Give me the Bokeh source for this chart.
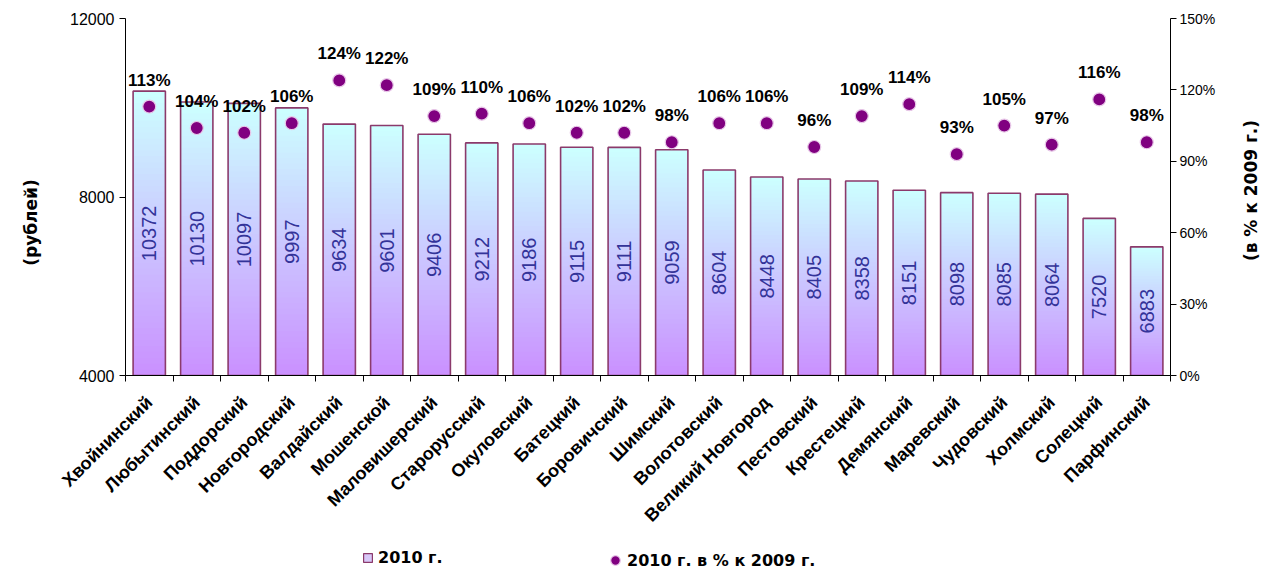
import math
from bokeh.plotting import figure
from bokeh.layouts import column, row
from bokeh.models import (Range1d, LinearAxis, FixedTicker, NumeralTickFormatter,
                          Legend, LegendItem)
from bokeh.core.properties import value
from bokeh.embed import file_html
from bokeh.resources import INLINE

districts = ["Хвойнинский", "Любытинский", "Поддорский", "Новгородский", "Валдайский",
             "Мошенской", "Маловишерский", "Старорусский", "Окуловский", "Батецкий",
             "Боровичский", "Шимский", "Волотовский", "Великий Новгород", "Пестовский",
             "Крестецкий", "Демянский", "Маревский", "Чудовский", "Холмский",
             "Солецкий", "Парфинский"]
wages_2010 = [10372, 10130, 10097, 9997, 9634, 9601, 9406, 9212, 9186, 9115, 9111,
              9059, 8604, 8448, 8405, 8358, 8151, 8098, 8085, 8064, 7520, 6883]
pct_of_2009 = [113, 104, 102, 106, 124, 122, 109, 110, 106, 102, 102,
               98, 106, 106, 96, 109, 114, 93, 105, 97, 116, 98]
left_ticks = [4000, 8000, 12000]
right_ticks = [0, 30, 60, 90, 120, 150]
left_title = "(рублей)"
right_title = "(в % к 2009 г.)"
legend_labels = ["2010 г.", "2010 г. в % к 2009 г."]

FONT = "Liberation Sans"
TFONT = "DejaVu Sans"
Y0, Y1 = 4000, 12000
n = len(districts)
xs = list(range(n))

H, LH = 548, 24
LW, PW, RW = 46, 1180, 36        # left title strip, chart, right title strip
FRAME_L, FRAME_R, FRAME_T, FRAME_B = 125, 1170, 18, 375

p = figure(width=PW, height=H, output_backend="svg", toolbar_location=None,
           x_range=Range1d(-0.5, n - 0.5), y_range=Range1d(Y0, Y1),
           min_border_left=FRAME_L - LW, min_border_right=LW + PW - FRAME_R,
           min_border_top=FRAME_T, min_border_bottom=H - FRAME_B, frame_align=False)
p.outline_line_color = None
p.xgrid.visible = False
p.ygrid.visible = False
p.background_fill_color = "white"
p.border_fill_color = "white"

# gradient bars (stacked thin overlapping slices per bar, cyan at top -> violet at bottom)
top_c = (204, 255, 255)
bot_c = (202, 145, 255)
N = 48
sx, sb, st, sc = [], [], [], []
for i, v in enumerate(wages_2010):
    for k in range(N):
        f = k / (N - 1)
        c = tuple(int(round(bot_c[j] + (top_c[j] - bot_c[j]) * f)) for j in range(3))
        sx.append(i)
        sb.append(Y0 + (v - Y0) * k / N)
        st.append(min(v, Y0 + (v - Y0) * (k + 1.6) / N))
        sc.append("#%02x%02x%02x" % c)
p.vbar(x=sx, bottom=sb, top=st, width=0.68, fill_color=sc, line_color=None)
p.vbar(x=xs, bottom=Y0, top=wages_2010, width=0.68, fill_color=None,
       line_color="#8B3A6B", line_width=1.6)

# value labels inside bars
mids = [(Y0 + v) / 2 for v in wages_2010]
p.text(x=xs, y=mids, text=[str(v) for v in wages_2010], angle=math.pi / 2,
       text_align="center", text_baseline="middle", text_color="#333399",
       text_font=value(FONT), text_font_size="20px")

# percent series on right axis
p.extra_y_ranges = {"pct": Range1d(0, 1.5)}
pv = [v / 100 for v in pct_of_2009]
p.scatter(x=xs, y=pv, y_range_name="pct", size=13, fill_color="#800080",
          line_color="#E8C8E8", line_width=1.2)
p.text(x=xs, y=pv, y_range_name="pct", text=["%d%%" % v for v in pct_of_2009],
       text_align="center", text_baseline="bottom", y_offset=-17,
       text_font=value(FONT), text_font_size="17px", text_font_style="bold",
       text_color="black")

# axes
xa = p.xaxis[0]
xa.ticker = FixedTicker(ticks=xs, minor_ticks=[i - 0.5 for i in range(n + 1)])
xa.major_label_overrides = {i: d for i, d in enumerate(districts)}
xa.major_label_orientation = math.pi / 4
xa.major_tick_out = 0
xa.major_tick_in = 0
xa.minor_tick_out = 6
xa.minor_tick_in = 0
xa.axis_line_color = "black"
xa.minor_tick_line_color = "black"
xa.major_label_text_font = FONT
xa.major_label_text_font_size = "18px"
xa.major_label_text_font_style = "bold"
xa.major_label_text_color = "black"
xa.major_label_standoff = 18

ya = p.yaxis[0]
ya.ticker = FixedTicker(ticks=left_ticks)
ya.major_label_text_font = FONT
ya.major_label_text_font_size = "16px"
ya.major_label_text_color = "black"
ya.minor_tick_line_color = None
ya.major_tick_out = 6
ya.major_tick_in = 0
ya.axis_line_color = "black"

ra = LinearAxis(y_range_name="pct", ticker=FixedTicker(ticks=[t / 100 for t in right_ticks]),
                formatter=NumeralTickFormatter(format="0%"))
ra.major_label_text_font = FONT
ra.major_label_text_font_size = "14px"
ra.major_label_text_color = "black"
ra.major_label_standoff = 3
ra.minor_tick_line_color = None
ra.major_tick_out = 6
ra.major_tick_in = 0
ra.axis_line_color = "black"
p.add_layout(ra, "right")


def title_strip(width, label, centre_y, standoff):
    """Narrow figure whose only content is a left-axis title reading bottom-to-top."""
    f = figure(width=width, height=H, output_backend="svg", toolbar_location=None,
               x_range=Range1d(0, 1), y_range=Range1d(0, 1), x_axis_location=None,
               min_border_left=width - 2, min_border_right=0, min_border_top=FRAME_T,
               min_border_bottom=H - (2 * centre_y - FRAME_T), frame_align=False)
    f.grid.visible = False
    f.outline_line_color = None
    f.border_fill_color = "white"
    ax = f.yaxis[0]
    ax.ticker = FixedTicker(ticks=[])
    ax.axis_line_color = None
    ax.major_tick_line_color = None
    ax.minor_tick_line_color = None
    ax.major_label_text_font_size = "0px"
    ax.axis_label = label
    ax.axis_label_text_font = TFONT
    ax.axis_label_text_font_size = "17px"
    ax.axis_label_text_font_style = "bold"
    ax.axis_label_text_color = "black"
    ax.axis_label_standoff = standoff
    return f


tl = title_strip(LW, left_title, 222, 4)
tr = title_strip(RW, right_title, 190, 0)

# legend strip under the chart
TW = LW + PW + RW
lf = figure(width=TW, height=LH, output_backend="svg", toolbar_location=None,
            x_range=Range1d(0, 1), y_range=Range1d(0, 1),
            x_axis_location=None, y_axis_location=None, frame_align=False,
            min_border_left=0, min_border_right=0, min_border_top=0, min_border_bottom=0)
lf.grid.visible = False
lf.outline_line_color = None
lf.border_fill_color = "white"
lg_bar = lf.quad(left=[0], right=[0], bottom=[-5], top=[-5], fill_color="#D8C8F8",
                 line_color="#8B3A6B", line_width=1.2)
lg_dot = lf.scatter(x=[0], y=[-5], marker="circle", size=10, fill_color="#800080",
                    line_color="#E8C8E8", line_width=1.2)
common = dict(orientation="horizontal", label_text_font=TFONT, label_text_font_size="16px",
              label_text_font_style="bold", label_text_color="black",
              border_line_color=None, background_fill_alpha=0, padding=0, margin=0)
leg1 = Legend(items=[LegendItem(label=legend_labels[0], renderers=[lg_bar])],
              location=(362, 5), glyph_width=11, glyph_height=11, label_height=11,
              label_standoff=5, **common)
leg2 = Legend(items=[LegendItem(label=legend_labels[1], renderers=[lg_dot])],
              location=(603, 0), glyph_width=24, glyph_height=24, label_height=24,
              label_standoff=0, **common)
lf.add_layout(leg1)
lf.add_layout(leg2)

layout = column(row(tl, p, tr, spacing=0), lf, spacing=0)
open("out.html", "w").write(file_html(layout, INLINE))
